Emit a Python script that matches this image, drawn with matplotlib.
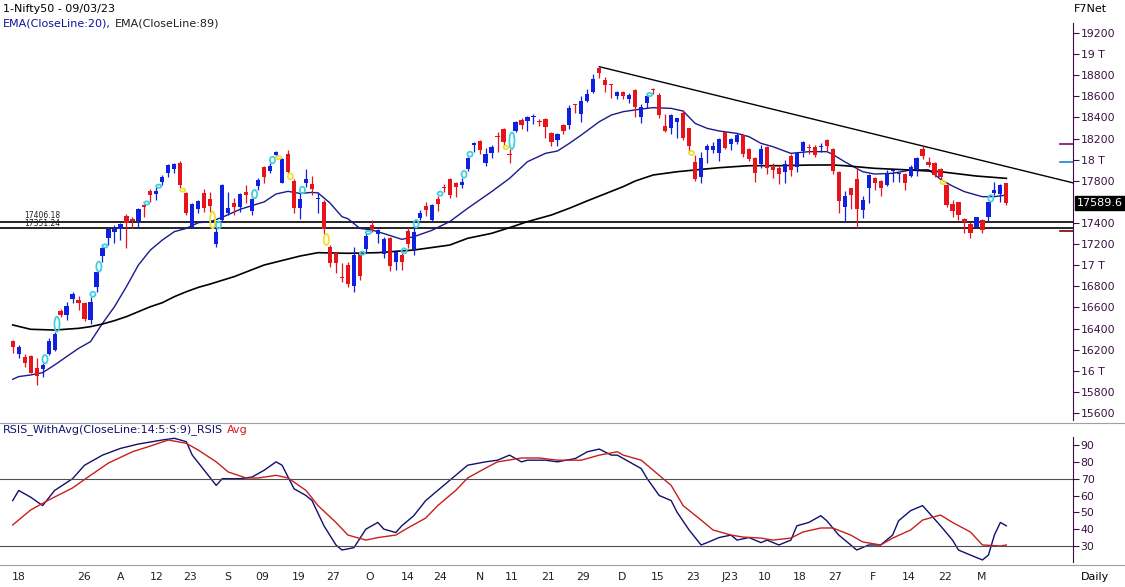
import matplotlib
matplotlib.use("Agg")
import matplotlib.pyplot as plt
from matplotlib.patches import Ellipse
from matplotlib.lines import Line2D

# daily OHLC, one entry per session (index 0 = first candle on the chart)
OPEN = [16282, 16156, 16130, 16143, 16026, 16017, 16159, 16197, 16566, 16528,
        16677, 16670, 16645, 16481, 16790, 17087, 17255, 17318, 17343, 17466,
        17435, 17419, 17570, 17706, 17675, 17792, 17877, 17908, 17972, 17687,
        17365, 17530, 17687, 17627, 17201, 17428, 17498, 17593, 17555, 17697,
        17517, 17754, 17927, 17896, 18044, 17782, 18054, 17801, 17539, 17782,
        17769, 17624, 17602, 17169, 17119, 16885, 17002, 16803, 17106, 17150,
        17381, 17296, 17106, 17255, 17034, 17097, 17327, 17150, 17444, 17564,
        17428, 17627, 17735, 17814, 17776, 17760, 17912, 18139, 18177, 17965,
        18060, 18227, 18290, 18050, 18272, 18376, 18366, 18401, 18360, 18385,
        18249, 18186, 18328, 18328, 18524, 18429, 18556, 18638, 18865, 18755,
        18714, 18606, 18644, 18575, 18660, 18407, 18534, 18663, 18613, 18322,
        18297, 18354, 18439, 18297, 17975, 17839, 18092, 18092, 18060, 18259,
        18145, 18171, 18234, 18101, 18019, 17956, 18123, 17934, 17918, 17880,
        18038, 17934, 18082, 18123, 18123, 18117, 18186, 18101, 17886, 17548,
        17728, 17814, 17523, 17728, 17823, 17798, 17760, 17893, 17864, 17864,
        17845, 17908, 18098, 17981, 17965, 17908, 17760, 17580, 17602, 17435,
        17391, 17365, 17428, 17460, 17687, 17675, 17782]
HIGH = [16290, 16244, 16159, 16150, 16118, 16070, 16307, 16370, 16585, 16650,
        16749, 16712, 16655, 16702, 16939, 17176, 17356, 17381, 17403, 17482,
        17460, 17539, 17580, 17719, 17738, 17855, 17959, 17965, 17987, 17697,
        17586, 17618, 17719, 17697, 17349, 17767, 17697, 17634, 17681, 17760,
        17634, 17823, 17940, 17965, 18082, 18012, 18092, 17814, 17681, 17908,
        17845, 17697, 17618, 17191, 17128, 17024, 17034, 17176, 17112, 17302,
        17428, 17340, 17270, 17270, 17144, 17112, 17359, 17359, 17523, 17602,
        17577, 17659, 17767, 17823, 17792, 17830, 18028, 18164, 18183, 18107,
        18139, 18259, 18297, 18101, 18366, 18392, 18417, 18429, 18385, 18392,
        18259, 18249, 18335, 18518, 18524, 18606, 18669, 18808, 18881, 18785,
        18714, 18650, 18650, 18628, 18669, 18524, 18612, 18682, 18630, 18429,
        18429, 18398, 18470, 18303, 18044, 18076, 18145, 18164, 18208, 18265,
        18208, 18250, 18240, 18114, 18028, 18139, 18133, 17965, 17949, 17997,
        18050, 18069, 18177, 18145, 18139, 18155, 18196, 18107, 17893, 17706,
        17728, 17927, 17656, 17864, 17833, 17807, 17902, 17908, 17877, 17871,
        17949, 18022, 18130, 18022, 17981, 17918, 17769, 17618, 17602, 17444,
        17413, 17460, 17435, 17602, 17792, 17769, 17782]
LOW = [16165, 16118, 16039, 15976, 15865, 15938, 16149, 16191, 16513, 16481,
       16645, 16576, 16475, 16443, 16749, 17034, 17190, 17207, 17239, 17160,
       17349, 17349, 17460, 17600, 17618, 17760, 17833, 17877, 17728, 17476,
       17349, 17492, 17507, 17507, 17169, 17413, 17476, 17476, 17507, 17586,
       17476, 17713, 17782, 17870, 18028, 17776, 17870, 17498, 17435, 17744,
       17665, 17498, 17296, 16980, 16929, 16844, 16797, 16749, 16860, 17116,
       17318, 17214, 17065, 16948, 16955, 16955, 17160, 17097, 17428, 17469,
       17419, 17514, 17697, 17640, 17650, 17735, 17893, 18076, 18050, 17943,
       18013, 18069, 18133, 17965, 18259, 18290, 18272, 18335, 18322, 18208,
       18133, 18133, 18240, 18290, 18439, 18354, 18543, 18628, 18777, 18638,
       18587, 18575, 18575, 18534, 18407, 18344, 18486, 18622, 18398, 18259,
       18240, 18202, 18186, 18082, 17798, 17776, 17965, 18060, 17987, 18101,
       18092, 18145, 18028, 17987, 17792, 17924, 17861, 17829, 17766, 17776,
       17848, 17886, 18028, 18050, 18028, 18069, 18082, 17861, 17492, 17413,
       17529, 17349, 17444, 17593, 17713, 17656, 17751, 17792, 17792, 17713,
       17833, 17845, 18010, 17934, 17839, 17801, 17548, 17460, 17428, 17308,
       17255, 17359, 17308, 17422, 17665, 17602, 17570]
CLOSE = [16228, 16222, 16070, 15982, 15950, 16055, 16285, 16348, 16528, 16614,
         16731, 16645, 16487, 16655, 16933, 17166, 17343, 17343, 17391, 17397,
         17419, 17530, 17548, 17665, 17706, 17833, 17949, 17956, 17760, 17498,
         17580, 17612, 17539, 17561, 17318, 17760, 17545, 17555, 17671, 17665,
         17624, 17807, 17839, 17940, 18069, 18006, 17886, 17539, 17624, 17814,
         17719, 17634, 17340, 17024, 17018, 16879, 16822, 17097, 16898, 17277,
         17340, 17334, 17245, 16992, 17128, 17034, 17201, 17318, 17492, 17523,
         17570, 17583, 17728, 17665, 17744, 17792, 18013, 18155, 18092, 18050,
         18123, 18218, 18164, 18044, 18354, 18328, 18407, 18407, 18354, 18313,
         18171, 18240, 18272, 18493, 18518, 18559, 18619, 18764, 18818, 18707,
         18707, 18638, 18606, 18613, 18502, 18502, 18605, 18657, 18423, 18272,
         18423, 18392, 18208, 18133, 17817, 18013, 18133, 18133, 18196, 18114,
         18196, 18234, 18050, 18006, 17871, 18101, 17924, 17902, 17861, 17956,
         17902, 18060, 18164, 18114, 18044, 18123, 18133, 17893, 17608, 17656,
         17665, 17529, 17618, 17855, 17776, 17728, 17877, 17902, 17871, 17782,
         17927, 18013, 18035, 17949, 17855, 17833, 17571, 17517, 17476, 17413,
         17308, 17454, 17334, 17602, 17713, 17760, 17589.6]

# moving averages at selected sessions
EMA20_IDX = [0, 1, 3, 5, 7, 9, 11, 13, 15, 17, 19, 21, 23, 25, 27, 29, 31, 33,
             35, 38, 42, 44, 46, 48, 50, 51, 53, 55, 56, 58, 60, 62, 64, 65, 67,
             70, 73, 76, 80, 83, 86, 89, 91, 93, 95, 98, 100, 102, 105, 107,
             110, 112, 114, 116, 118, 121, 123, 125, 127, 130, 133, 136, 137,
             139, 142, 144, 147, 150, 153, 155, 157, 159, 162, 164, 166]
EMA20_VAL = [15919, 15945, 15960, 15982, 16055, 16134, 16212, 16276, 16449,
             16607, 16797, 17002, 17144, 17239, 17318, 17349, 17403, 17413,
             17454, 17530, 17600, 17675, 17700, 17680, 17690, 17685, 17590,
             17460, 17440, 17349, 17334, 17300, 17264, 17245, 17270, 17330,
             17413, 17539, 17697, 17823, 17981, 18060, 18082, 18155, 18234,
             18360, 18423, 18455, 18480, 18493, 18486, 18461, 18344, 18297,
             18272, 18249, 18218, 18155, 18123, 18060, 18076, 18076, 18050,
             17980, 17886, 17864, 17871, 17902, 17905, 17814, 17750, 17697,
             17649, 17650, 17665]
EMA89_IDX = [0, 3, 7, 11, 13, 15, 17, 19, 21, 23, 25, 27, 29, 31, 33, 37, 42,
             48, 51, 56, 61, 67, 73, 76, 80, 83, 86, 90, 93, 96, 100, 102, 104,
             107, 111, 115, 118, 123, 128, 133, 137, 139, 144, 150, 155, 161,
             166]
EMA89_VAL = [16434, 16393, 16386, 16402, 16418, 16443, 16475, 16513, 16560,
             16607, 16645, 16702, 16749, 16790, 16822, 16892, 17002, 17087,
             17119, 17113, 17119, 17144, 17191, 17255, 17302, 17356, 17413,
             17476, 17540, 17610, 17700, 17745, 17798, 17855, 17886, 17908,
             17924, 17943, 17943, 17949, 17950, 17943, 17918, 17902, 17886,
             17845, 17823]

# RSI(14) and its average
RSI_IDX = [0, 1, 3, 5, 7, 10, 12, 15, 18, 21, 25, 27, 29, 30, 32, 34, 35, 38,
           40, 42, 44, 45, 47, 49, 50, 52, 54, 55, 57, 59, 61, 62, 64, 65, 67,
           69, 71, 74, 76, 79, 81, 83, 85, 86, 89, 91, 94, 96, 98, 100, 101,
           103, 105, 106, 108, 110, 111, 113, 115, 116, 118, 120, 121, 123,
           125, 126, 128, 130, 131, 133, 135, 136, 138, 140, 141, 143, 145,
           147, 148, 150, 152, 153, 155, 157, 158, 160, 162, 163, 164, 165,
           166]
RSI_VAL = [57, 63, 59, 54, 63, 70, 78, 84, 88, 90.6, 93, 94, 92, 84, 75, 66,
           70, 70, 71, 75, 80, 78, 64, 60, 57, 42, 30.6, 27.6, 29, 40, 44, 40,
           38, 42, 48, 57, 63, 72, 78, 80, 81, 84, 80, 81, 81, 80, 82, 86,
           87.6, 84, 84, 80, 76, 70, 60, 57, 50, 39.5, 30.6, 32, 35, 36.5,
           33.5, 35, 32, 33.5, 30.6, 33.5, 42, 44, 48, 45, 36.5, 30.6, 27.6,
           30.6, 30.6, 36.5, 45, 51, 54, 50, 42, 33.5, 27.6, 24.6, 21.7, 24.6,
           36.5, 44, 42]
AVG_IDX = [0, 3, 6, 10, 13, 16, 20, 23, 26, 29, 31, 34, 36, 39, 41, 44, 46,
           49, 51, 54, 56, 59, 61, 64, 66, 69, 71, 74, 76, 79, 81, 85, 88, 91,
           95, 98, 101, 102, 105, 107, 110, 112, 115, 117, 120, 122, 125, 127,
           130, 132, 135, 137, 140, 142, 145, 147, 150, 152, 155, 157, 160,
           162, 165, 166]
AVG_VAL = [42.5, 51.4, 57.3, 64.5, 72, 79.3, 86, 89.4, 93, 91, 87, 80, 74,
           70.4, 70.4, 72, 70.4, 63, 54, 44, 36.5, 33.5, 35, 36.5, 40.7, 46.6,
           54, 63, 70.4, 76.3, 80, 82.3, 82.3, 81, 81, 84, 86, 84, 81, 75, 66,
           54, 45.4, 39.5, 36.5, 35.3, 34.7, 33.5, 34.7, 38.3, 40.7, 40.7,
           36.5, 32.4, 30.6, 34.7, 39.5, 45.4, 48.4, 44, 38.3, 30.6, 30, 30.6]

SUPPORT = [17406.18, 17351.24]
TREND_IDX = [98, 152]
TREND_VAL = [18881, 18130]
LAST_CLOSE = 17589.6
EDGE_MARKS = [(18148, "#800080"), (17978, "#2080d0"), (17324, "#800000")]

XTICK_POS = [1, 12, 18, 24, 29.6, 36, 41.6, 47.7, 53.5, 59.7, 66, 71.4, 78.1,
             83.4, 89.4, 95.3, 101.8, 107.8, 113.7, 119.8, 125.7, 131.5,
             137.4, 143.7, 149.6, 155.7, 161.9]
XTICK_LABELS = ["18", "26", "A", "12", "23", "S", "09", "19", "27", "O", "14",
                "24", "N", "11", "21", "29", "D", "15", "23", "J23", "10", "18",
                "27", "F", "14", "22", "M"]

UP = "#1020e0"
DOWN = "#e8141c"
AXIS = "#3a1040"

W, H = 1125, 587
fig = plt.figure(figsize=(W / 100, H / 100), dpi=100)
fig.patch.set_facecolor("white")

XL = (-12.7 / 5.986, (1073 - 12.7) / 5.986)


def px_axes(top, bottom):
    return fig.add_axes([0, 1 - bottom / H, 1073 / W, (bottom - top) / H])


ax = px_axes(23, 420)
ax2 = px_axes(424, 565)

# candles
n = len(CLOSE)
for i in range(n):
    o, h, l, c = OPEN[i], HIGH[i], LOW[i], CLOSE[i]
    col = UP if c >= o else DOWN
    ax.vlines(i, l, h, color=col, lw=0.9, zorder=3)
    lo, hi = min(o, c), max(o, c)
    ax.bar(i, max(hi - lo, 10), bottom=lo, width=0.7, color=col,
           linewidth=0, zorder=4)

# gap markers
for i in range(1, n):
    if LOW[i] > HIGH[i - 1]:
        g0, g1, col = HIGH[i - 1], LOW[i], "#40d0e0"
    elif HIGH[i] < LOW[i - 1]:
        g0, g1, col = HIGH[i], LOW[i - 1], "#f0e030"
    else:
        continue
    ax.add_patch(Ellipse((i - 0.6, (g0 + g1) / 2), 0.85, max(g1 - g0, 30),
                         fill=False, edgecolor=col, lw=1.3, zorder=5))

ax.plot(EMA20_IDX, EMA20_VAL, color="#1a1a8a", lw=1.0, zorder=2)
ax.plot(EMA89_IDX, EMA89_VAL, color="black", lw=1.2, zorder=2)

for v, dy in zip(SUPPORT, (26, 1)):
    ax.axhline(v, color="black", lw=1.2, zorder=1)
    ax.text(2, v + dy, f"{v:.2f}", fontsize=5.5, color="#202020", va="bottom")

slope = (TREND_VAL[1] - TREND_VAL[0]) / (TREND_IDX[1] - TREND_IDX[0])
ax.plot([TREND_IDX[0], XL[1]],
        [TREND_VAL[0], TREND_VAL[0] + slope * (XL[1] - TREND_IDX[0])],
        color="black", lw=1.0, zorder=2)

for v, col in EDGE_MARKS:
    ax.plot([174.9, XL[1]], [v, v], color=col, lw=1.2)

ax.set_xlim(*XL)
ax.set_ylim(15533.6, 19295)
ticks = [t for t in range(15600, 19201, 200) if t != 17600]
ax.set_yticks(ticks)
ax.set_yticklabels([f"{t // 1000} T" if t % 1000 == 0 else str(t) for t in ticks])
ax.yaxis.tick_right()
ax.set_xticks([])
for s in ["top", "left", "bottom"]:
    ax.spines[s].set_visible(False)
ax.spines["right"].set_color(AXIS)
ax.tick_params(axis="y", colors=AXIS, length=4, width=0.8, pad=1.5,
               labelsize=7.8)

ax.annotate(f"{LAST_CLOSE}", xy=(1, LAST_CLOSE),
            xycoords=ax.get_yaxis_transform(), xytext=(4, 0),
            textcoords="offset pixels", va="center", ha="left", fontsize=8,
            color="white", annotation_clip=False,
            bbox=dict(boxstyle="square,pad=0.15", fc="black", ec="black"))

# RSI panel
ax2.plot(RSI_IDX, RSI_VAL, color="#10106e", lw=1.0)
ax2.plot(AVG_IDX, AVG_VAL, color="#c81e1e", lw=1.0)
ax2.axhline(70, color="#505050", lw=0.8)
ax2.axhline(30, color="#505050", lw=0.8)
ax2.set_xlim(*XL)
ax2.set_ylim(18.7, 102.5)
ax2.set_yticks(range(30, 91, 10))
ax2.yaxis.tick_right()
for s in ["top", "left", "bottom"]:
    ax2.spines[s].set_visible(False)
ax2.spines["right"].set_color(AXIS)
ax2.spines["right"].set_bounds(20.5, 94.8)
ax2.tick_params(axis="y", colors=AXIS, length=4, width=0.8, pad=1.5,
                labelsize=7.8)
ax2.set_xticks(XTICK_POS)
ax2.set_xticklabels(XTICK_LABELS)
ax2.tick_params(axis="x", length=0, pad=5, labelsize=7.8, colors="#202020")

for y in (423, 565):
    fig.add_artist(Line2D([0, 1], [1 - y / H] * 2, color="#a0a0a0", lw=0.8))

fig.text(3 / W, 1 - 9 / H, "1-Nifty50 - 09/03/23", fontsize=8, va="center")
t1 = fig.text(3 / W, 1 - 23 / H, "EMA(CloseLine:20),", fontsize=8,
              va="center", color="#1010a0")
fig.canvas.draw()
bb = t1.get_window_extent()
fig.text((bb.x1 + 4) / W, 1 - 23 / H, "EMA(CloseLine:89)", fontsize=8,
         va="center", color="#202020")
t2 = fig.text(3 / W, 1 - 430 / H, "RSIS_WithAvg(CloseLine:14:5:S:9)_RSIS",
              fontsize=8, va="center", color="#10106e")
fig.canvas.draw()
bb = t2.get_window_extent()
fig.text((bb.x1 + 4) / W, 1 - 430 / H, "Avg", fontsize=8, va="center",
         color="#e01818")
fig.text(1090 / W, 1 - 9 / H, "F7Net", fontsize=8, va="center", ha="center")
fig.text(1095 / W, 1 - 577 / H, "Daily", fontsize=8, va="center", ha="center")

fig.savefig("out.png", dpi=100)
